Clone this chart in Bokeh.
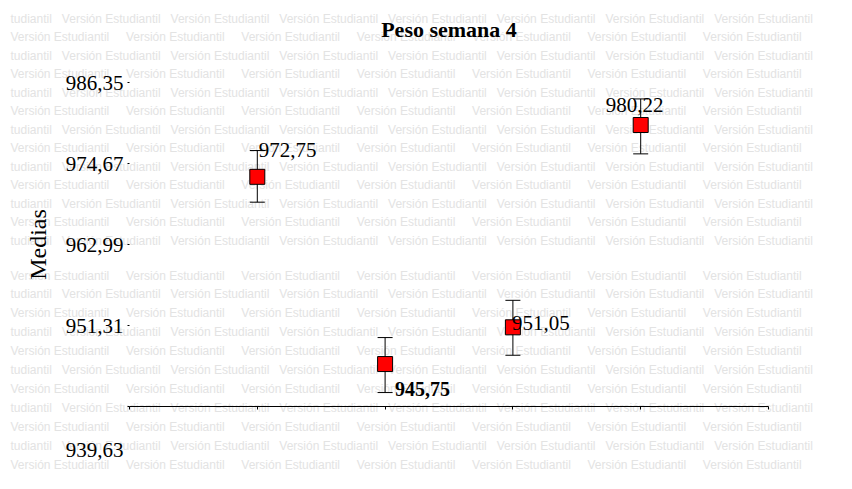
from bokeh.plotting import figure
from bokeh.layouts import column
from bokeh.models import ColumnDataSource, Whisker, TeeHead, FixedTicker, Range1d
from bokeh.embed import file_html
from bokeh.resources import INLINE
from bokeh.core.properties import value

# ---- data ----
groups = [1, 2, 3, 4]
means = [972.75, 945.75, 951.05, 980.22]
lower = [969.09, 941.64, 947.02, 976.06]
upper = [976.54, 949.57, 954.94, 983.98]
mean_labels = ["972,75", "945,75", "951,05", "980,22"]
y_ticks = [939.63, 951.31, 962.99, 974.67, 986.35]
y_tick_labels = ["939,63", "951,31", "962,99", "974,67", "986,35"]
x_ticks = [0, 1, 2, 3, 4, 5]
title_text = "Peso semana 4"
y_title = "Medias"
watermark = "Versión Estudiantil"

SERIF = "Liberation Serif"
W, H = 836, 473
FRAME_L, FRAME_R, FRAME_T, FRAME_B = 129, 768, 82, 406

# ---- background canvas: watermark + title (pixel coordinates) ----
bg = figure(width=W, height=H, x_range=Range1d(0, W), y_range=Range1d(H, 0),
            x_axis_type=None, y_axis_type=None, title=None,
            output_backend="svg", toolbar_location=None,
            min_border=0, min_border_left=0, min_border_right=0,
            min_border_top=0, min_border_bottom=0)
bg.frame_align = False
bg.outline_line_color = None
bg.grid.visible = False
row_t = "tudiantil" + "\u00a0" * 3 + ("\u00a0" * 3).join([watermark] * 7)
row_v = ("\u00a0" * 5).join([watermark] * 7)
row_y, row_txt = [], []
for i in range(13):
    row_y.append(18.3 + 18.5 * i)
    row_txt.append(row_t if i % 2 == 0 else row_v)
for j in range(11):
    row_y.append(275 + 18.9 * j)
    row_txt.append(row_v if j % 2 == 0 else row_t)
bg.text(x=[10] * len(row_y), y=row_y, text=row_txt, text_font=value("Liberation Sans"),
        text_font_size="12px", text_color="#e3e3e3", text_baseline="middle", text_align="left")
bg.text(x=[(FRAME_L + FRAME_R) / 2], y=[29], text=[title_text], text_font=value(SERIF),
        text_font_size="22px", text_font_style="bold", text_color="black",
        text_align="center", text_baseline="alphabetic")

# ---- main chart ----
p = figure(width=W, height=H, x_range=(0, 5), y_range=(y_ticks[0], y_ticks[-1]),
           output_backend="svg", toolbar_location=None, title=None,
           min_border_left=FRAME_L, min_border_right=W - FRAME_R,
           min_border_top=FRAME_T, min_border_bottom=H - FRAME_B)
p.frame_align = False
p.outline_line_color = None
p.xgrid.visible = False
p.ygrid.visible = False
p.background_fill_color = None
p.border_fill_color = None
p.styles = {"margin-top": f"-{H}px"}

src = ColumnDataSource(dict(x=groups, m=means, lo=lower, up=upper))
wh = Whisker(base="x", lower="lo", upper="up", source=src, dimension="height",
             line_color="black", line_width=1,
             upper_head=TeeHead(size=15, line_color="black", line_width=1),
             lower_head=TeeHead(size=15, line_color="black", line_width=1))
p.add_layout(wh)
p.scatter("x", "m", source=src, marker="square", size=15, fill_color="red",
          line_color="black", line_width=1)

label_style = [(1.5, -26.5, "normal", "21px"), (10, 24.5, "bold", "20px"),
               (-1, -4, "normal", "21px"), (-35, -20, "normal", "21px")]
for i, (dx, dy, style, fs) in enumerate(label_style):
    p.text(x=[groups[i]], y=[means[i]], text=[mean_labels[i]], x_offset=dx, y_offset=dy,
           text_font=value(SERIF), text_font_size=fs, text_font_style=style,
           text_color="black", text_align="left", text_baseline="alphabetic")

# axes
p.yaxis.ticker = FixedTicker(ticks=y_ticks)
p.yaxis.major_label_overrides = {t: (lab if k > 0 else "\n\n\n" + lab)
                                 for k, (t, lab) in enumerate(zip(y_ticks, y_tick_labels))}
p.yaxis.axis_line_color = None
p.yaxis.major_tick_in = 0
p.yaxis.major_tick_out = 2
p.yaxis.minor_tick_line_color = None
p.yaxis.major_label_standoff = 4
p.yaxis.major_label_text_font = SERIF
p.yaxis.major_label_text_font_size = "21px"
p.yaxis.major_label_text_color = "black"
p.yaxis.axis_label = y_title
p.yaxis.axis_label_text_font = SERIF
p.yaxis.axis_label_text_font_size = "24px"
p.yaxis.axis_label_text_font_style = "normal"
p.yaxis.axis_label_text_color = "black"
p.yaxis.axis_label_standoff = 12

p.xaxis.ticker = FixedTicker(ticks=x_ticks)
p.xaxis.major_label_text_color = None
p.xaxis.major_label_text_font_size = "1px"
p.xaxis.axis_line_color = "black"
p.xaxis.major_tick_in = 0
p.xaxis.major_tick_out = 3
p.xaxis.minor_tick_line_color = None

layout = column(bg, p, spacing=0)
open("out.html", "w").write(file_html(layout, INLINE))
